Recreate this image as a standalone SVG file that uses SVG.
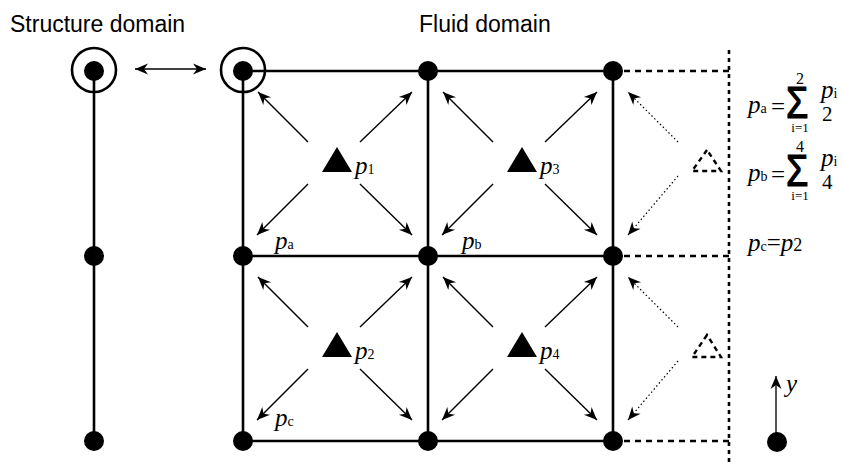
<svg xmlns="http://www.w3.org/2000/svg" width="843" height="462" viewBox="0 0 843 462">
<defs>
<marker id="ah" viewBox="-14 -6 15 12" refX="0" refY="0" markerWidth="15" markerHeight="12" markerUnits="userSpaceOnUse" orient="auto-start-reverse">
<path d="M0,0 L-13,-5.5 L-9,0 L-13,5.5 Z" fill="#000"/>
</marker>
</defs>
<style>
.sans{font-family:"Liberation Sans",Arial,sans-serif;font-size:23px;fill:#000}
.m{font-family:"Liberation Serif","Times New Roman",serif;fill:#000}
.sig{font-family:"Liberation Sans",Arial,sans-serif;font-size:44px;fill:#000;stroke:#000;stroke-width:1.2}
.it{font-style:italic}
.grid{stroke:#000;stroke-width:2.6;fill:none}
.dash{stroke:#000;stroke-width:2.4;stroke-dasharray:6 5;fill:none}
.dotv{stroke:#000;stroke-width:2.6;stroke-dasharray:4 4;fill:none}
.arr{stroke:#000;stroke-width:1.4;fill:none;marker-end:url(#ah)}
.darr{stroke:#000;stroke-width:1.2;stroke-dasharray:1.5 2.5;fill:none;marker-end:url(#ah)}
.node{fill:#000}
.ring{fill:none;stroke:#000;stroke-width:2.6}
.tri{fill:#000}
.gtri{fill:none;stroke:#000;stroke-width:2.4;stroke-dasharray:5 4}
</style>
<rect width="843" height="462" fill="#fff"/>

<text class="sans" x="10" y="32">Structure domain</text>
<text class="sans" x="419" y="32">Fluid domain</text>

<g id="connectors">
<line class="grid" x1="94" y1="71" x2="94" y2="441"/>
<line class="grid" x1="243" y1="71" x2="613" y2="71"/>
<line class="grid" x1="243" y1="256" x2="613" y2="256"/>
<line class="grid" x1="243" y1="441" x2="613" y2="441"/>
<line class="grid" x1="243" y1="71" x2="243" y2="441"/>
<line class="grid" x1="428" y1="71" x2="428" y2="441"/>
<line class="grid" x1="613" y1="71" x2="613" y2="441"/>
<line class="dash" x1="613" y1="71" x2="729" y2="71"/>
<line class="dash" x1="613" y1="256" x2="729" y2="256"/>
<line class="dash" x1="613" y1="441" x2="729" y2="441"/>
<line class="dotv" x1="729" y1="50" x2="729" y2="462"/>
<line stroke="#000" stroke-width="1.6" x1="135" y1="69" x2="206" y2="69" marker-start="url(#ah)" marker-end="url(#ah)"/>
<line class="arr" x1="308" y1="142" x2="258" y2="92"/>
<line class="arr" x1="360" y1="142" x2="412" y2="92"/>
<line class="arr" x1="308" y1="184" x2="257" y2="235"/>
<line class="arr" x1="360" y1="184" x2="412" y2="235"/>
<line class="arr" x1="493" y1="142" x2="443" y2="92"/>
<line class="arr" x1="545" y1="142" x2="597" y2="92"/>
<line class="arr" x1="493" y1="184" x2="442" y2="235"/>
<line class="arr" x1="545" y1="184" x2="597" y2="235"/>
<line class="arr" x1="308" y1="327" x2="258" y2="277"/>
<line class="arr" x1="360" y1="327" x2="412" y2="277"/>
<line class="arr" x1="308" y1="369" x2="257" y2="420"/>
<line class="arr" x1="360" y1="369" x2="412" y2="420"/>
<line class="arr" x1="493" y1="327" x2="443" y2="277"/>
<line class="arr" x1="545" y1="327" x2="597" y2="277"/>
<line class="arr" x1="493" y1="369" x2="442" y2="420"/>
<line class="arr" x1="545" y1="369" x2="597" y2="420"/>
<line class="darr" x1="678" y1="142" x2="628" y2="92"/>
<line class="darr" x1="678" y1="176" x2="628" y2="235"/>
<line class="darr" x1="678" y1="327" x2="628" y2="277"/>
<line class="darr" x1="678" y1="361" x2="628" y2="420"/>
<line stroke="#555" stroke-width="2" x1="776" y1="441" x2="776" y2="376" marker-end="url(#ah)"/>
</g>

<g id="s1"><circle class="ring" cx="94" cy="70" r="22"/><circle class="node" cx="94" cy="71" r="10"/></g>
<g id="s2"><circle class="node" cx="94" cy="256" r="10"/></g>
<g id="s3"><circle class="node" cx="94" cy="441" r="10"/></g>

<g id="f11"><circle class="ring" cx="243" cy="70" r="22"/><circle class="node" cx="243" cy="71" r="10"/></g>
<g id="f12"><circle class="node" cx="428" cy="71" r="10"/></g>
<g id="f13"><circle class="node" cx="613" cy="71" r="10"/></g>
<g id="f21"><circle class="node" cx="243" cy="256" r="10"/></g>
<g id="f22"><circle class="node" cx="428" cy="256" r="10"/></g>
<g id="f23"><circle class="node" cx="613" cy="256" r="10"/></g>
<g id="f31"><circle class="node" cx="243" cy="441" r="10"/></g>
<g id="f32"><circle class="node" cx="428" cy="441" r="10"/></g>
<g id="f33"><circle class="node" cx="613" cy="441" r="10"/></g>
<g id="yorigin"><circle class="node" cx="777" cy="442" r="10"/></g>

<g id="p1"><polygon class="tri" points="337,147 322,172 352,172"/><text class="m it" x="355" y="174" font-size="25">p<tspan font-style="normal" font-size="14">1</tspan></text></g>
<g id="p3"><polygon class="tri" points="522,147 507,172 537,172"/><text class="m it" x="540" y="174" font-size="25">p<tspan font-style="normal" font-size="14">3</tspan></text></g>
<g id="p2"><polygon class="tri" points="337,332 322,357 352,357"/><text class="m it" x="355" y="359" font-size="25">p<tspan font-style="normal" font-size="14">2</tspan></text></g>
<g id="p4"><polygon class="tri" points="522,332 507,357 537,357"/><text class="m it" x="540" y="359" font-size="25">p<tspan font-style="normal" font-size="14">4</tspan></text></g>
<g id="g1"><polygon class="gtri" points="707,150 692,171 721,171"/></g>
<g id="g2"><polygon class="gtri" points="707,335 692,357 721,357"/></g>

<g id="labels">
<text class="m it" x="275" y="249" font-size="25">p<tspan font-style="normal" font-size="14">a</tspan></text>
<text class="m it" x="462" y="249" font-size="25">p<tspan font-style="normal" font-size="14">b</tspan></text>
<text class="m it" x="275" y="426" font-size="25">p<tspan font-style="normal" font-size="14">c</tspan></text>
<text class="m it" x="786" y="392" font-size="25">y</text>
</g>

<g id="formulas">
<text class="m it" x="748" y="113" font-size="25">p<tspan font-style="normal" font-size="14">a</tspan></text>
<text class="m" x="771" y="115" font-size="25">=</text>
<text class="sig" transform="translate(786,118) scale(0.82,1)">Σ</text>
<text class="m" x="800" y="84" font-size="16" text-anchor="middle">2</text>
<text class="m" x="800" y="132" font-size="13" text-anchor="middle">i=1</text>
<text class="m it" x="821" y="98" font-size="25">p<tspan font-style="normal" font-size="14">i</tspan></text>
<text class="m" x="822" y="121" font-size="21">2</text>

<text class="m it" x="748" y="181" font-size="25">p<tspan font-style="normal" font-size="14">b</tspan></text>
<text class="m" x="771" y="183" font-size="25">=</text>
<text class="sig" transform="translate(786,186) scale(0.82,1)">Σ</text>
<text class="m" x="800" y="152" font-size="16" text-anchor="middle">4</text>
<text class="m" x="800" y="200" font-size="13" text-anchor="middle">i=1</text>
<text class="m it" x="821" y="166" font-size="25">p<tspan font-style="normal" font-size="14">i</tspan></text>
<text class="m" x="822" y="189" font-size="21">4</text>

<text class="m it" x="748" y="251" font-size="25">p<tspan font-style="normal" font-size="14">c</tspan><tspan font-style="normal" font-size="25">=</tspan>p<tspan font-style="normal" font-size="18">2</tspan></text>
</g>
</svg>
